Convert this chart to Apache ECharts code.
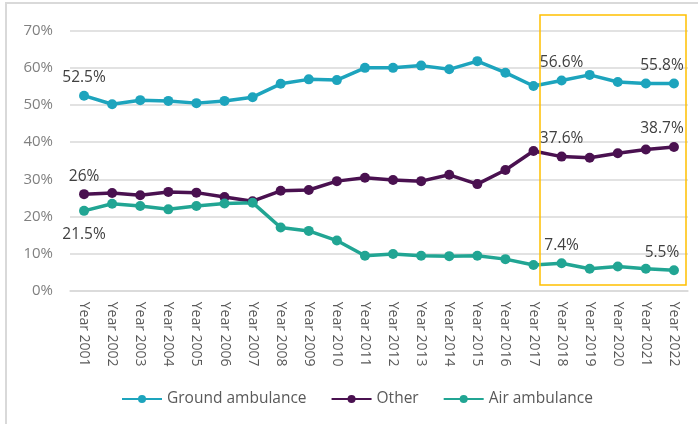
<!DOCTYPE html>
<html>
<head>
<meta charset="utf-8">
<script src="https://cdn.jsdelivr.net/npm/echarts@6/dist/echarts.min.js"></script>
<style>
  html, body { margin: 0; padding: 0; background: #fff; }
  #chart { width: 698px; height: 424px; }
</style>
</head>
<body>
<div id="chart"></div>
<script>
// categories
const years = ['Year 2001','Year 2002','Year 2003','Year 2004','Year 2005','Year 2006','Year 2007',
  'Year 2008','Year 2009','Year 2010','Year 2011','Year 2012','Year 2013','Year 2014','Year 2015',
  'Year 2016','Year 2017','Year 2018','Year 2019','Year 2020','Year 2021','Year 2022']

// series values (%)
const ground = [52.5,50.2,51.3,51.1,50.5,51.1,52.1,55.7,56.9,56.7,60.0,60.0,60.6,59.6,61.8,58.7,55.1,56.6,58.1,56.2,55.8,55.8]
const other  = [26.0,26.3,25.7,26.6,26.4,25.2,24.1,26.9,27.1,29.5,30.4,29.8,29.5,31.2,28.7,32.5,37.6,36.1,35.8,37.0,38.0,38.7]
const air    = [21.5,23.4,22.8,21.9,22.8,23.5,23.7,17.0,16.1,13.5,9.4,9.9,9.4,9.3,9.4,8.5,6.9,7.4,5.9,6.5,5.9,5.5]

// data label texts (empty = no label)
const groundLabels = ['52.5%','','','','','','','','','','','','','','','','','56.6%','','','','55.8%']
const otherLabels  = ['26%','','','','','','','','','','','','','','','','','37.6%','','','','38.7%']
const airLabels    = ['21.5%','','','','','','','','','','','','','','','','','7.4%','','','','5.5%']

const yTicks = [0,10,20,30,40,50,60,70]

const labelFont = { fontFamily: 'Open Sans', fontSize: 15.5, color: '#404040' }

function buildData(values, labels, below0) {
  return values.map((v, i) => {
    const item = { value: v }
    if (labels[i]) {
      item.label = Object.assign({
        show: true,
        formatter: labels[i],
        position: (below0 && i === 0) ? 'bottom' : 'top',
        distance: (below0 && i === 0) ? 11 : 5,
        offset: i === values.length - 1 ? [-12, 0] : [0, 0]
      }, labelFont)
    }
    return item
  })
}

function mkSeries(name, color, values, labels, below0) {
  return {
    name: name,
    type: 'line',
    data: buildData(values, labels, below0),
    symbol: 'circle',
    symbolSize: 10,
    lineStyle: { width: 3.5, color: color },
    itemStyle: { color: color },
    label: { show: false },
    emphasis: { disabled: true },
    animation: false
  }
}

const chart = echarts.init(document.getElementById('chart'))
chart.setOption({
  backgroundColor: '#fff',
  animation: false,
  grid: { left: 70, right: 10, top: 30.7, bottom: 133.3, containLabel: false },
  legend: {
    top: 386,
    left: 116,
    itemWidth: 40,
    itemHeight: 10,
    itemGap: 24,
    textStyle: { fontFamily: 'Open Sans', fontSize: 15.5, color: '#595959' },
    data: ['Ground ambulance', 'Other', 'Air ambulance']
  },
  xAxis: {
    type: 'category',
    data: years,
    boundaryGap: true,
    axisLine: { show: true, lineStyle: { color: '#d9d9d9', width: 1.5 } },
    axisTick: { show: false },
    axisLabel: {
      rotate: -90,
      margin: 11,
      interval: 0,
      fontFamily: 'Open Sans',
      fontSize: 14,
      color: '#595959'
    }
  },
  yAxis: {
    type: 'value',
    min: yTicks[0],
    max: yTicks[yTicks.length - 1],
    interval: 10,
    axisLine: { show: false },
    axisTick: { show: false },
    splitLine: { lineStyle: { color: '#d9d9d9', width: 1.5 } },
    axisLabel: {
      formatter: '{value}%',
      margin: 17,
      fontFamily: 'Open Sans',
      fontSize: 15,
      color: '#808080'
    }
  },
  series: [
    mkSeries('Ground ambulance', '#1da4bd', ground, groundLabels, false),
    mkSeries('Other', '#4a1150', other, otherLabels, false),
    mkSeries('Air ambulance', '#21a593', air, airLabels, true)
  ],
  graphic: [
    {
      type: 'rect',
      shape: { x: 6, y: 3, width: 760, height: 520 },
      style: { fill: 'none', stroke: '#d9d9d9', lineWidth: 2 },
      silent: true,
      z: -1
    },
    {
      type: 'rect',
      shape: { x: 540, y: 15, width: 146, height: 270 },
      style: { fill: 'none', stroke: '#ffc000', lineWidth: 1.5 },
      silent: true,
      z: 10
    }
  ]
})
</script>
</body>
</html>
